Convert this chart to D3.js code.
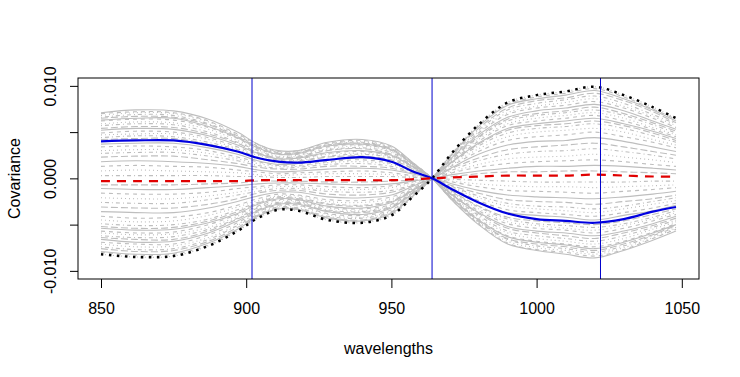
<!DOCTYPE html>
<html>
<head>
<meta charset="utf-8">
<script src="https://cdn.jsdelivr.net/npm/d3@7"></script>
<style>
  body { margin: 0; background: #fff; }
  text { font-family: "Liberation Sans", Arial, sans-serif; }
</style>
</head>
<body>
<div id="container"></div>
<script>
/* CONSTANTS AND GLOBALS */
const width = 740,
  height = 377,
  margin = { top: 78, bottom: 98, left: 78, right: 41 };

/* DATA (covariance values in units of 1e-4) */
const wavelengths = [850, 862, 875, 887, 897, 904, 911, 918, 928, 940, 950, 957, 964, 971, 980, 990, 1000, 1010, 1020, 1030, 1040, 1048];

const grayCurves = [
  [71,74,73,64,50,37,30,30,39,42,35,18,0,-24,-50,-71,-78,-82,-86,-78,-67,-57],
  [70,72,71,62,48,37,29,30,38,41,34,18,0,-24,-49,-70,-77,-80,-84,-77,-65,-55],
  [68,71,70,61,47,36,28,29,37,40,33,17,0,-23,-48,-68,-75,-78,-82,-75,-64,-54],
  [66,69,68,59,46,35,28,28,36,39,32,17,0,-23,-47,-66,-73,-76,-80,-73,-62,-53],
  [65,67,66,58,45,34,27,28,36,38,32,17,0,-22,-46,-65,-71,-74,-78,-71,-61,-51],
  [63,65,65,56,44,33,26,27,35,37,31,16,0,-22,-45,-63,-69,-72,-76,-69,-59,-50],
  [62,64,63,55,43,32,26,26,34,36,30,16,0,-21,-44,-62,-68,-71,-74,-68,-58,-49],
  [59,61,60,53,41,31,24,25,32,35,29,15,0,-20,-42,-59,-65,-68,-71,-65,-55,-47],
  [57,59,58,50,39,30,23,24,31,33,28,14,0,-19,-40,-57,-62,-65,-68,-62,-53,-45],
  [54,56,55,48,38,28,22,23,30,32,26,14,0,-18,-38,-54,-59,-62,-65,-59,-51,-43],
  [52,54,53,46,36,27,21,22,28,30,25,13,0,-18,-37,-52,-57,-59,-62,-57,-49,-41],
  [49,51,50,44,34,26,20,21,27,29,24,13,0,-17,-35,-49,-54,-56,-59,-54,-46,-39],
  [47,48,48,42,32,25,19,20,26,27,23,12,0,-16,-33,-47,-51,-54,-56,-51,-44,-37],
  [44,46,45,39,31,23,18,19,24,26,22,11,0,-15,-31,-44,-49,-51,-53,-49,-42,-35],
  [42,43,43,37,29,22,17,18,23,24,20,11,0,-14,-30,-42,-46,-48,-50,-46,-39,-33],
  [37,38,38,33,26,19,15,16,20,22,18,9,0,-13,-26,-37,-40,-42,-45,-40,-35,-29],
  [34,35,34,30,23,18,14,14,18,20,16,9,0,-11,-24,-34,-37,-39,-41,-37,-32,-27],
  [30,31,31,27,21,16,13,13,17,18,15,8,0,-10,-21,-30,-33,-35,-37,-33,-28,-24],
  [27,28,28,24,19,14,11,12,15,16,13,7,0,-9,-19,-27,-30,-31,-33,-30,-25,-21],
  [23,24,24,20,16,12,10,10,13,13,11,6,0,-8,-16,-23,-25,-26,-28,-25,-22,-18],
  [18,19,18,16,13,9,7,8,10,11,9,5,0,-6,-13,-18,-20,-21,-22,-20,-17,-14],
  [13,14,13,12,9,7,5,6,7,8,6,3,0,-4,-9,-13,-14,-15,-16,-14,-12,-10],
  [8,9,8,7,6,4,3,4,5,5,4,2,0,-3,-6,-8,-9,-9,-10,-9,-8,-7],
  [3,3,3,3,2,2,1,1,2,2,2,1,0,-1,-2,-3,-4,-4,-4,-4,-3,-3],
  [-7,-7,-7,-6,-5,-3,-3,-3,-4,-4,-3,-2,0,2,5,7,7,8,8,7,6,5],
  [-11,-12,-12,-10,-8,-6,-5,-5,-6,-7,-6,-3,0,4,8,11,13,13,14,13,11,9],
  [-16,-17,-17,-15,-11,-9,-7,-7,-9,-10,-8,-4,0,6,12,16,18,19,20,18,15,13],
  [-21,-22,-22,-19,-15,-11,-9,-9,-12,-12,-10,-5,0,7,15,21,23,24,26,23,20,17],
  [-26,-27,-27,-23,-18,-14,-11,-11,-14,-15,-13,-7,0,9,19,26,29,30,32,29,25,21],
  [-31,-32,-32,-28,-22,-16,-13,-13,-17,-18,-15,-8,0,11,22,31,34,36,38,34,29,25],
  [-36,-37,-37,-32,-25,-19,-15,-15,-20,-21,-18,-9,0,12,26,36,40,41,44,40,34,29],
  [-41,-43,-42,-37,-29,-22,-17,-18,-23,-24,-20,-11,0,14,29,41,45,47,50,45,39,33],
  [-45,-47,-46,-40,-31,-24,-19,-19,-25,-26,-22,-12,0,15,32,45,50,52,54,50,42,36],
  [-49,-51,-50,-44,-34,-26,-20,-21,-27,-29,-24,-13,0,17,35,49,54,56,59,54,46,39],
  [-52,-54,-53,-46,-36,-27,-21,-22,-28,-30,-25,-13,0,18,37,52,57,59,62,57,49,41],
  [-54,-56,-55,-48,-38,-28,-22,-23,-30,-32,-26,-14,0,18,38,54,59,62,65,59,51,43],
  [-57,-59,-58,-50,-39,-30,-23,-24,-31,-33,-28,-14,0,19,40,57,62,65,68,62,53,45],
  [-59,-61,-60,-53,-41,-31,-24,-25,-32,-35,-29,-15,0,20,42,59,65,68,71,65,55,47],
  [-62,-64,-63,-55,-43,-32,-26,-26,-34,-36,-30,-16,0,21,44,62,68,71,74,68,58,49],
  [-64,-66,-66,-57,-44,-34,-27,-27,-35,-37,-31,-16,0,22,45,64,70,73,77,70,60,51],
  [-66,-69,-68,-59,-46,-35,-28,-28,-36,-39,-32,-17,0,23,47,66,73,76,80,73,62,53],
  [-69,-71,-71,-61,-48,-36,-29,-29,-38,-40,-34,-18,0,24,49,69,76,79,83,76,65,55],
  [-71,-74,-73,-64,-50,-37,-30,-30,-39,-42,-35,-18,0,24,50,71,78,82,86,78,67,57],
  [-74,-77,-76,-66,-51,-39,-31,-32,-41,-43,-36,-19,0,25,52,74,81,85,89,81,69,59],
  [-76,-79,-78,-68,-53,-40,-32,-33,-42,-45,-37,-20,0,26,54,76,84,87,92,84,72,60],
  [-79,-82,-81,-70,-55,-41,-33,-34,-43,-46,-38,-20,0,27,56,79,86,90,95,86,74,62],
  [-80,-83,-82,-72,-56,-42,-33,-34,-44,-47,-39,-21,0,27,57,80,88,92,97,88,75,64],
  [-82,-85,-84,-73,-57,-43,-34,-35,-45,-48,-40,-21,0,28,58,82,90,94,99,90,77,65]
];

const blackCurve = [-82,-85,-84,-73,-57,-43,-34,-35,-45,-48,-40,-21,0,28,58,82,90,94,99,90,77,65];
const blueCurve  = [40,41,41,36,29,22,18,17,20,23,18,8,0,-12,-26,-38,-44,-46,-48,-44,-36,-31];
const redCurve   = [-3,-3,-3,-3,-3,-2,-2,-2,-2,-2,-2,-1,0,1,2,3,3,3,4,3,2,2];

const markWavelengths = [902, 964, 1022];
const xTicks = [850, 900, 950, 1000, 1050];
const yTicks = [-0.010, -0.005, 0, 0.005, 0.010];
const yTickLabels = ["-0.010", "", "0.000", "", "0.010"];

/* SCALES */
const xScale = d3.scaleLinear()
  .domain([842.08, 1055.92])
  .range([margin.left, width - margin.right]);

const yScale = d3.scaleLinear()
  .domain([-0.01088, 0.01085])
  .range([height - margin.bottom, margin.top]);

// R style line types, cycled over the gray curves
const ltys = [null, "4,4", "1,3", "1,3,4,3", "7,3"];

const line = d3.line()
  .x((d, i) => xScale(wavelengths[i]))
  .y(d => yScale(d / 1e4))
  .curve(d3.curveCatmullRom.alpha(0.5));

/* SVG */
const svg = d3.select("#container")
  .append("svg")
  .attr("width", width)
  .attr("height", height)
  .style("background-color", "#fff");

// gray curves
svg.append("g")
  .selectAll("path")
  .data(grayCurves)
  .join("path")
  .attr("d", line)
  .attr("fill", "none")
  .attr("stroke", "#bebebe")
  .attr("stroke-width", 1.1)
  .attr("stroke-dasharray", (d, i) => ltys[i % ltys.length]);

// black dotted
svg.append("path")
  .attr("d", line(blackCurve))
  .attr("fill", "none")
  .attr("stroke", "#000")
  .attr("stroke-width", 2.5)
  .attr("stroke-dasharray", "2.5,5.5");

// blue solid
svg.append("path")
  .attr("d", line(blueCurve))
  .attr("fill", "none")
  .attr("stroke", "#0000e0")
  .attr("stroke-width", 2.2);

// red dashed
svg.append("path")
  .attr("d", line(redCurve))
  .attr("fill", "none")
  .attr("stroke", "#e00000")
  .attr("stroke-width", 2.2)
  .attr("stroke-dasharray", "9,7");

// vertical marker lines
svg.append("g")
  .selectAll("line")
  .data(markWavelengths)
  .join("line")
  .attr("x1", d => xScale(d))
  .attr("x2", d => xScale(d))
  .attr("y1", margin.top)
  .attr("y2", height - margin.bottom)
  .attr("stroke", "#0000cc")
  .attr("stroke-width", 1);

// box
svg.append("rect")
  .attr("x", margin.left)
  .attr("y", margin.top)
  .attr("width", width - margin.left - margin.right)
  .attr("height", height - margin.top - margin.bottom)
  .attr("fill", "none")
  .attr("stroke", "#000")
  .attr("stroke-width", 1);

/* AXES */
const xAxis = d3.axisBottom(xScale)
  .tickValues(xTicks)
  .tickSize(9)
  .tickSizeOuter(0)
  .tickPadding(15)
  .tickFormat(d3.format("d"));

const yAxis = d3.axisLeft(yScale)
  .tickValues(yTicks)
  .tickSize(8)
  .tickSizeOuter(0)
  .tickFormat((d, i) => yTickLabels[i]);

const xAxisGroup = svg.append("g")
  .attr("transform", `translate(0, ${height - margin.bottom})`)
  .call(xAxis);

const yAxisGroup = svg.append("g")
  .attr("transform", `translate(${margin.left}, 0)`)
  .call(yAxis);

xAxisGroup.select(".domain").remove();
yAxisGroup.select(".domain").remove();

xAxisGroup.selectAll("text")
  .attr("font-size", 16)
  .attr("fill", "#000");

// rotated y tick labels, as in R's default las = 0
yAxisGroup.selectAll("text")
  .attr("font-size", 16)
  .attr("fill", "#000")
  .attr("text-anchor", "middle")
  .attr("dominant-baseline", "central")
  .attr("x", 0)
  .attr("y", 0)
  .attr("dy", null)
  .attr("transform", "translate(-28, 0) rotate(-90)");

// axis titles
svg.append("text")
  .attr("x", (margin.left + width - margin.right) / 2)
  .attr("y", 354)
  .attr("text-anchor", "middle")
  .attr("font-size", 16)
  .text("wavelengths");

svg.append("text")
  .attr("transform", `translate(14, ${(margin.top + height - margin.bottom) / 2}) rotate(-90)`)
  .attr("text-anchor", "middle")
  .attr("dominant-baseline", "central")
  .attr("font-size", 16)
  .text("Covariance");
</script>
</body>
</html>
